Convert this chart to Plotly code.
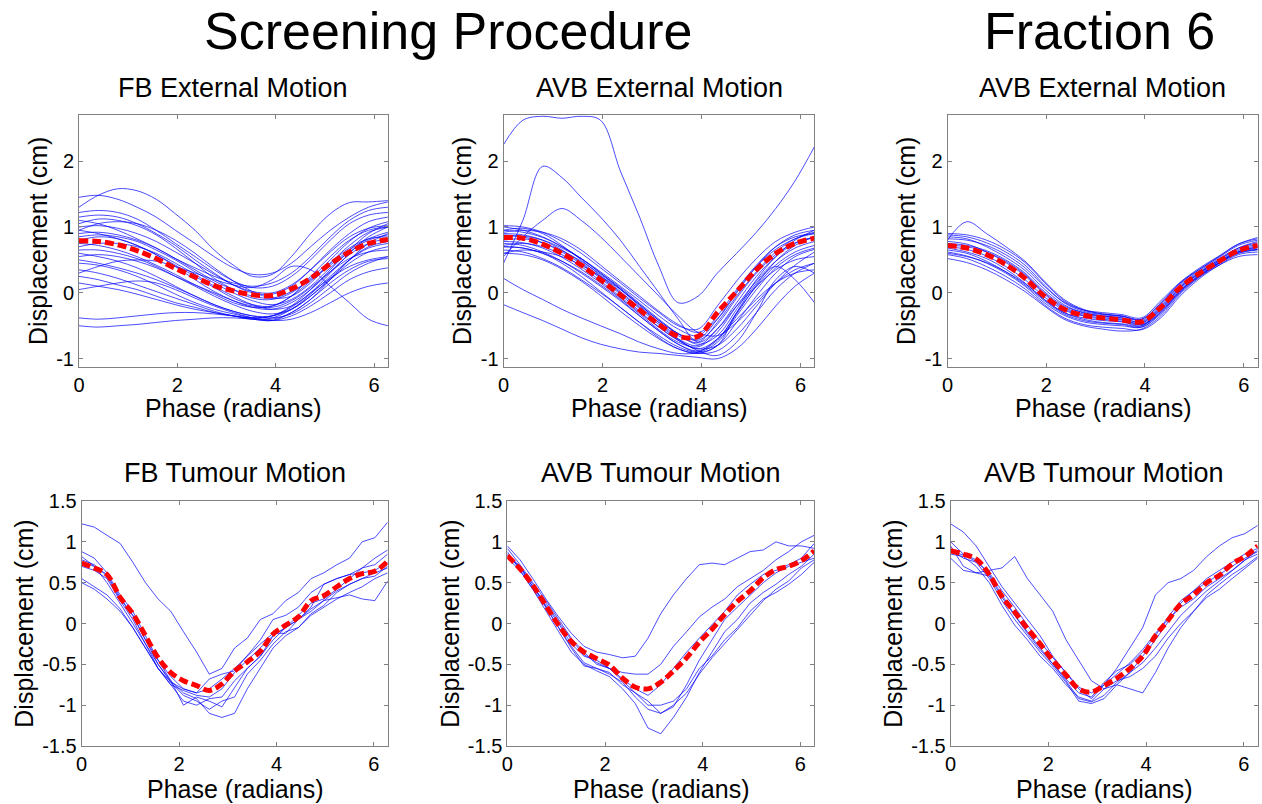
import plotly.graph_objects as go

# ---------------- DATA ----------------
PHASE_EXT = [0.0, 0.39, 0.79, 1.18, 1.57, 1.96, 2.36, 2.75, 3.14, 3.53, 3.93,
             4.32, 4.71, 5.11, 5.50, 5.89, 6.283]
PHASE_TUM = [0.0, 0.26, 0.52, 0.79, 1.05, 1.31, 1.57, 1.83, 2.09, 2.36, 2.62,
             2.88, 3.14, 3.40, 3.67, 3.93, 4.19, 4.45, 4.71, 4.97, 5.24, 5.50,
             5.76, 6.02, 6.283]

X_TICKS = [0, 2, 4, 6]
X_TICK_LABELS = ["0", "2", "4", "6"]
Y_TICKS_EXT = [-1, 0, 1, 2]
Y_TICK_LABELS_EXT = ["-1", "0", "1", "2"]
Y_TICKS_TUM = [-1.5, -1, -0.5, 0, 0.5, 1, 1.5]
Y_TICK_LABELS_TUM = ["-1.5", "-1", "-0.5", "0", "0.5", "1", "1.5"]

SUPER_TITLES = ["Screening Procedure", "Fraction 6"]
PANEL_TITLES = ["FB External Motion", "AVB External Motion", "AVB External Motion",
                "FB Tumour Motion", "AVB Tumour Motion", "AVB Tumour Motion"]
X_TITLE = "Phase (radians)"
Y_TITLE = "Displacement (cm)"

# FB external motion (screening)
FB_EXT_MEAN = [0.79, 0.78, 0.73, 0.64, 0.52, 0.37, 0.24, 0.11, 0.03, -0.03, -0.04,
               0.06, 0.22, 0.44, 0.62, 0.75, 0.81]
FB_EXT_CYCLES = [
    [1.45, 1.48, 1.42, 1.30, 1.15, 0.95, 0.75, 0.55, 0.38, 0.28, 0.30, 0.45, 0.70, 0.95, 1.15, 1.30, 1.38],
    [1.30, 1.48, 1.58, 1.55, 1.42, 1.20, 0.95, 0.65, 0.42, 0.25, 0.28, 0.55, 0.90, 1.20, 1.37, 1.38, 1.40],
    [1.22, 1.25, 1.22, 1.12, 0.95, 0.75, 0.55, 0.35, 0.18, 0.08, 0.10, 0.25, 0.50, 0.80, 1.05, 1.18, 1.22],
    [1.15, 1.18, 1.15, 1.05, 0.90, 0.72, 0.50, 0.30, 0.12, 0.00, -0.02, 0.10, 0.35, 0.65, 0.90, 1.08, 1.15],
    [1.05, 1.12, 1.10, 1.02, 0.88, 0.68, 0.45, 0.22, 0.05, -0.08, -0.10, 0.00, 0.22, 0.50, 0.78, 0.98, 1.08],
    [1.00, 1.02, 0.98, 0.90, 0.78, 0.62, 0.45, 0.28, 0.12, 0.02, 0.00, 0.12, 0.35, 0.62, 0.85, 0.98, 1.02],
    [0.95, 1.05, 1.08, 1.05, 0.95, 0.80, 0.60, 0.38, 0.18, 0.02, -0.08, -0.05, 0.15, 0.45, 0.72, 0.92, 1.00],
    [0.90, 0.92, 0.88, 0.80, 0.68, 0.52, 0.35, 0.18, 0.05, -0.05, -0.08, 0.02, 0.20, 0.42, 0.65, 0.82, 0.92],
    [0.85, 0.88, 0.85, 0.78, 0.65, 0.50, 0.32, 0.15, 0.00, -0.12, -0.18, -0.10, 0.10, 0.38, 0.62, 0.80, 0.88],
    [0.80, 0.85, 0.82, 0.72, 0.58, 0.40, 0.20, 0.02, -0.12, -0.22, -0.25, -0.15, 0.05, 0.32, 0.58, 0.75, 0.82],
    [0.75, 0.72, 0.65, 0.55, 0.42, 0.28, 0.12, -0.02, -0.15, -0.22, -0.20, -0.05, 0.18, 0.45, 0.68, 0.82, 0.85],
    [0.70, 0.75, 0.75, 0.70, 0.60, 0.45, 0.28, 0.10, -0.05, -0.18, -0.25, -0.20, 0.00, 0.30, 0.60, 0.85, 1.00],
    [0.65, 0.65, 0.60, 0.52, 0.40, 0.25, 0.10, -0.05, -0.18, -0.28, -0.32, -0.25, -0.05, 0.22, 0.50, 0.70, 0.78],
    [0.60, 0.55, 0.48, 0.38, 0.25, 0.10, -0.05, -0.18, -0.28, -0.35, -0.35, -0.25, -0.05, 0.20, 0.45, 0.62, 0.70],
    [0.55, 0.58, 0.55, 0.48, 0.38, 0.25, 0.12, 0.00, -0.12, -0.20, -0.22, -0.12, 0.08, 0.32, 0.52, 0.62, 0.65],
    [0.50, 0.45, 0.38, 0.30, 0.20, 0.08, -0.05, -0.18, -0.28, -0.35, -0.38, -0.32, -0.15, 0.08, 0.30, 0.45, 0.55],
    [0.45, 0.42, 0.35, 0.25, 0.12, -0.02, -0.15, -0.25, -0.32, -0.38, -0.40, -0.30, -0.10, 0.15, 0.35, 0.48, 0.52],
    [0.35, 0.30, 0.22, 0.12, 0.02, -0.08, -0.18, -0.28, -0.35, -0.40, -0.42, -0.35, -0.20, 0.00, 0.20, 0.32, 0.38],
    [0.25, 0.20, 0.12, 0.05, -0.05, -0.15, -0.22, -0.30, -0.35, -0.40, -0.38, -0.25, -0.02, 0.25, 0.50, 0.68, 0.75],
    [0.15, 0.10, 0.05, -0.02, -0.10, -0.18, -0.25, -0.30, -0.35, -0.38, -0.35, -0.22, 0.00, 0.22, 0.40, 0.50, 0.55],
    [-0.38, -0.40, -0.38, -0.35, -0.32, -0.30, -0.30, -0.32, -0.35, -0.38, -0.35, -0.20, 0.05, 0.35, 0.65, 0.90, 1.05],
    [-0.50, -0.52, -0.50, -0.48, -0.45, -0.42, -0.40, -0.38, -0.38, -0.40, -0.42, -0.30, -0.10, 0.20, 0.50, 0.75, 0.90],
    [0.30, 0.40, 0.48, 0.50, 0.48, 0.40, 0.30, 0.20, 0.12, 0.08, 0.20, 0.40, 0.35, 0.10, -0.15, -0.40, -0.50],
    [0.05, 0.10, 0.15, 0.18, 0.15, 0.05, -0.08, -0.20, -0.30, -0.38, -0.42, -0.40, -0.30, -0.15, 0.00, 0.10, 0.15],
    [1.10, 1.05, 0.95, 0.82, 0.68, 0.52, 0.38, 0.25, 0.15, 0.10, 0.15, 0.30, 0.55, 0.85, 1.10, 1.25, 1.30],
    [0.95, 0.90, 0.82, 0.72, 0.58, 0.42, 0.25, 0.08, -0.08, -0.18, -0.20, -0.05, 0.25, 0.55, 0.80, 0.95, 1.00],
]

# AVB external motion (screening)
AVB_EXT_MEAN = [0.84, 0.83, 0.74, 0.60, 0.42, 0.20, -0.03, -0.26, -0.48, -0.66, -0.66,
                -0.30, 0.02, 0.35, 0.60, 0.75, 0.83]
AVB_EXT_CYCLES = [
    [2.25, 2.62, 2.68, 2.65, 2.68, 2.62, 1.85, 1.15, 0.40, -0.15, -0.05, 0.30, 0.60, 0.92, 1.28, 1.70, 2.22],
    [0.45, 1.10, 1.92, 1.75, 1.45, 1.15, 0.80, 0.40, 0.00, -0.40, -0.75, -0.55, -0.20, 0.10, 0.35, 0.50, 0.55],
    [0.55, 0.85, 1.10, 1.28, 1.10, 0.85, 0.55, 0.25, -0.05, -0.35, -0.60, -0.65, -0.45, -0.15, 0.15, 0.35, 0.45],
    [0.22, 0.05, -0.10, -0.25, -0.38, -0.50, -0.62, -0.75, -0.85, -0.92, -0.90, -0.70, -0.40, -0.10, 0.15, 0.30, 0.35],
    [-0.18, -0.30, -0.42, -0.55, -0.68, -0.78, -0.85, -0.90, -0.92, -0.95, -0.98, -1.00, -0.85, -0.55, -0.20, 0.10, 0.30],
    [0.60, 0.65, 0.62, 0.55, 0.42, 0.25, 0.05, -0.20, -0.45, -0.70, -0.88, -0.95, -0.75, -0.30, 0.20, 0.40, 0.30],
    [0.70, 0.68, 0.60, 0.48, 0.32, 0.12, -0.10, -0.35, -0.58, -0.78, -0.90, -0.80, -0.30, 0.15, 0.40, 0.20, -0.15],
    [1.02, 1.00, 0.92, 0.78, 0.60, 0.38, 0.15, -0.08, -0.30, -0.50, -0.55, -0.20, 0.18, 0.52, 0.78, 0.92, 1.00],
    [0.95, 0.98, 0.90, 0.72, 0.50, 0.26, 0.02, -0.22, -0.45, -0.65, -0.75, -0.45, -0.05, 0.32, 0.62, 0.82, 0.92],
    [0.90, 0.88, 0.80, 0.65, 0.46, 0.24, 0.00, -0.24, -0.48, -0.70, -0.80, -0.55, -0.15, 0.25, 0.55, 0.75, 0.85],
    [0.85, 0.86, 0.80, 0.68, 0.52, 0.32, 0.10, -0.12, -0.35, -0.55, -0.65, -0.35, 0.05, 0.42, 0.70, 0.85, 0.90],
    [0.78, 0.76, 0.68, 0.54, 0.36, 0.15, -0.08, -0.32, -0.56, -0.75, -0.82, -0.60, -0.20, 0.18, 0.48, 0.68, 0.78],
    [0.75, 0.72, 0.62, 0.48, 0.30, 0.10, -0.12, -0.35, -0.58, -0.78, -0.88, -0.72, -0.30, 0.10, 0.42, 0.62, 0.72],
    [0.70, 0.68, 0.60, 0.45, 0.25, 0.02, -0.22, -0.45, -0.65, -0.82, -0.90, -0.75, -0.35, 0.05, 0.38, 0.58, 0.68],
    [0.65, 0.62, 0.52, 0.38, 0.20, 0.00, -0.22, -0.45, -0.68, -0.85, -0.92, -0.80, -0.45, -0.05, 0.30, 0.55, 0.66],
    [0.92, 0.95, 0.92, 0.82, 0.65, 0.42, 0.18, -0.05, -0.28, -0.48, -0.60, -0.40, 0.00, 0.40, 0.70, 0.88, 0.95],
    [0.88, 0.85, 0.76, 0.62, 0.44, 0.22, -0.02, -0.28, -0.52, -0.72, -0.85, -0.70, -0.32, 0.12, 0.48, 0.72, 0.85],
    [1.00, 0.95, 0.85, 0.70, 0.52, 0.30, 0.08, -0.16, -0.40, -0.62, -0.78, -0.65, -0.25, 0.20, 0.55, 0.80, 0.95],
    [0.80, 0.82, 0.76, 0.64, 0.48, 0.28, 0.06, -0.18, -0.42, -0.62, -0.72, -0.48, -0.08, 0.30, 0.58, 0.76, 0.84],
    [0.72, 0.75, 0.70, 0.58, 0.40, 0.18, -0.06, -0.30, -0.52, -0.72, -0.85, -0.80, -0.55, -0.20, 0.15, 0.42, 0.62],
    [0.60, 0.58, 0.50, 0.36, 0.18, -0.04, -0.28, -0.50, -0.70, -0.85, -0.92, -0.88, -0.65, -0.30, 0.05, 0.30, 0.45],
    [0.95, 0.92, 0.84, 0.70, 0.52, 0.30, 0.06, -0.18, -0.42, -0.62, -0.70, -0.40, 0.02, 0.40, 0.66, 0.82, 0.90],
]

# AVB external motion (fraction 6)
F6_EXT_MEAN = [0.72, 0.68, 0.58, 0.43, 0.22, -0.05, -0.25, -0.34, -0.38, -0.41, -0.44,
               -0.22, 0.08, 0.30, 0.48, 0.64, 0.72]
F6_EXT_CYCLES = [
    [0.88, 0.85, 0.76, 0.62, 0.42, 0.12, -0.15, -0.28, -0.33, -0.36, -0.40, -0.15, 0.15, 0.36, 0.54, 0.72, 0.80],
    [0.80, 1.08, 0.90, 0.70, 0.48, 0.18, -0.10, -0.25, -0.32, -0.35, -0.42, -0.18, 0.12, 0.34, 0.52, 0.68, 0.76],
    [0.75, 0.72, 0.64, 0.50, 0.30, 0.02, -0.20, -0.30, -0.35, -0.38, -0.44, -0.20, 0.10, 0.32, 0.50, 0.66, 0.74],
    [0.70, 0.66, 0.56, 0.40, 0.20, -0.06, -0.26, -0.35, -0.40, -0.43, -0.48, -0.26, 0.04, 0.28, 0.46, 0.62, 0.70],
    [0.65, 0.60, 0.48, 0.32, 0.12, -0.12, -0.32, -0.42, -0.46, -0.48, -0.52, -0.32, 0.00, 0.25, 0.44, 0.60, 0.66],
    [0.58, 0.52, 0.40, 0.25, 0.06, -0.18, -0.38, -0.48, -0.52, -0.54, -0.56, -0.38, -0.05, 0.22, 0.42, 0.58, 0.62],
    [0.52, 0.46, 0.35, 0.20, 0.02, -0.20, -0.40, -0.50, -0.55, -0.58, -0.55, -0.35, -0.02, 0.24, 0.42, 0.55, 0.58],
    [0.82, 0.80, 0.72, 0.58, 0.38, 0.10, -0.14, -0.26, -0.30, -0.33, -0.38, -0.12, 0.16, 0.38, 0.56, 0.74, 0.82],
    [0.78, 0.74, 0.62, 0.46, 0.26, -0.02, -0.24, -0.34, -0.38, -0.41, -0.46, -0.24, 0.06, 0.30, 0.48, 0.64, 0.72],
    [0.68, 0.62, 0.52, 0.36, 0.15, -0.10, -0.30, -0.38, -0.42, -0.44, -0.50, -0.28, 0.03, 0.27, 0.46, 0.62, 0.68],
    [0.62, 0.56, 0.45, 0.30, 0.10, -0.15, -0.34, -0.44, -0.48, -0.50, -0.52, -0.30, 0.02, 0.26, 0.45, 0.60, 0.65],
    [0.85, 0.82, 0.70, 0.54, 0.34, 0.06, -0.18, -0.30, -0.35, -0.38, -0.45, -0.22, 0.08, 0.31, 0.50, 0.68, 0.78],
    [0.72, 0.70, 0.62, 0.48, 0.28, 0.00, -0.22, -0.32, -0.36, -0.40, -0.48, -0.30, 0.02, 0.26, 0.45, 0.62, 0.70],
    [0.60, 0.55, 0.46, 0.32, 0.14, -0.10, -0.30, -0.40, -0.45, -0.47, -0.50, -0.25, 0.08, 0.30, 0.48, 0.62, 0.66],
    [0.90, 0.88, 0.80, 0.66, 0.46, 0.16, -0.12, -0.26, -0.32, -0.35, -0.40, -0.16, 0.14, 0.36, 0.55, 0.74, 0.84],
]

# FB tumour motion (screening)
FB_TUM_MEAN = [0.74, 0.68, 0.60, 0.32, 0.12, -0.15, -0.42, -0.60, -0.70, -0.76, -0.82,
               -0.74, -0.58, -0.47, -0.34, -0.13, -0.02, 0.08, 0.28, 0.34, 0.45, 0.55,
               0.61, 0.64, 0.76]
FB_TUM_CYCLES = [
    [1.22, 1.18, 1.08, 0.98, 0.75, 0.50, 0.30, 0.15, -0.10, -0.35, -0.62, -0.55, -0.30, -0.18, 0.05, 0.12, 0.28, 0.38, 0.55, 0.62, 0.72, 0.80, 1.00, 1.05, 1.24],
    [0.88, 0.80, 0.62, 0.35, 0.15, -0.15, -0.45, -0.70, -1.00, -0.90, -0.95, -1.02, -0.78, -0.55, -0.40, -0.15, -0.05, 0.05, 0.20, 0.48, 0.55, 0.60, 0.68, 0.80, 0.90],
    [0.78, 0.72, 0.58, 0.30, 0.10, -0.20, -0.50, -0.70, -0.85, -0.92, -1.10, -1.15, -1.10, -0.80, -0.55, -0.30, -0.15, -0.05, 0.10, 0.20, 0.30, 0.38, 0.45, 0.55, 0.62],
    [0.70, 0.65, 0.55, 0.28, 0.05, -0.25, -0.55, -0.75, -0.82, -0.88, -0.90, -0.80, -0.60, -0.45, -0.30, -0.15, -0.05, 0.10, 0.25, 0.30, 0.42, 0.55, 0.68, 0.72, 0.85],
    [0.55, 0.45, 0.35, 0.18, -0.05, -0.30, -0.55, -0.72, -0.80, -0.85, -0.80, -0.68, -0.55, -0.40, -0.25, -0.12, -0.12, 0.05, 0.18, 0.28, 0.40, 0.48, 0.55, 0.58, 0.70],
    [0.50, 0.42, 0.30, 0.15, -0.05, -0.30, -0.55, -0.75, -0.95, -1.00, -0.92, -0.90, -0.70, -0.55, -0.40, -0.20, -0.05, 0.05, 0.15, 0.28, 0.32, 0.35, 0.30, 0.28, 0.52],
    [0.75, 0.70, 0.60, 0.32, 0.10, -0.20, -0.45, -0.65, -0.80, -0.85, -0.68, -0.62, -0.58, -0.40, -0.20, 0.05, 0.10, 0.20, 0.38, 0.48, 0.55, 0.60, 0.62, 0.65, 0.75],
    [0.82, 0.70, 0.50, 0.25, 0.00, -0.25, -0.50, -0.72, -0.88, -0.95, -1.05, -0.95, -0.90, -0.62, -0.45, -0.25, -0.10, -0.05, 0.12, 0.22, 0.38, 0.48, 0.55, 0.62, 0.68],
]

# AVB tumour motion (screening)
AVB_TUM_MEAN = [0.83, 0.67, 0.47, 0.22, -0.02, -0.22, -0.35, -0.43, -0.51, -0.67, -0.78,
                -0.80, -0.72, -0.58, -0.42, -0.23, -0.07, 0.11, 0.27, 0.40, 0.56, 0.66,
                0.70, 0.77, 0.89]
AVB_TUM_CYCLES = [
    [0.95, 0.78, 0.55, 0.30, 0.08, -0.12, -0.28, -0.35, -0.38, -0.42, -0.40, -0.18, 0.12, 0.35, 0.55, 0.72, 0.74, 0.72, 0.80, 0.88, 0.90, 1.00, 0.95, 0.95, 0.92],
    [0.92, 0.72, 0.50, 0.28, 0.05, -0.18, -0.35, -0.50, -0.55, -0.60, -0.62, -0.62, -0.50, -0.28, -0.10, 0.08, 0.20, 0.30, 0.45, 0.55, 0.65, 0.78, 0.88, 1.00, 1.08],
    [0.85, 0.70, 0.48, 0.20, -0.05, -0.28, -0.48, -0.55, -0.60, -0.75, -0.85, -0.95, -1.10, -1.02, -0.75, -0.45, -0.20, 0.05, 0.20, 0.35, 0.50, 0.62, 0.70, 0.75, 0.80],
    [0.80, 0.65, 0.42, 0.15, -0.10, -0.35, -0.50, -0.58, -0.65, -0.80, -0.98, -1.28, -1.35, -1.15, -0.90, -0.60, -0.35, -0.10, 0.05, 0.25, 0.38, 0.48, 0.60, 0.70, 0.85],
    [0.82, 0.70, 0.45, 0.22, 0.00, -0.25, -0.40, -0.45, -0.55, -0.70, -0.85, -1.00, -1.00, -0.95, -0.80, -0.55, -0.40, -0.20, -0.05, 0.15, 0.30, 0.38, 0.48, 0.60, 0.75],
    [0.88, 0.65, 0.42, 0.20, -0.05, -0.30, -0.52, -0.55, -0.62, -0.72, -0.90, -1.05, -1.10, -1.00, -0.85, -0.62, -0.42, -0.25, -0.08, 0.10, 0.28, 0.42, 0.52, 0.68, 0.78],
    [0.84, 0.68, 0.45, 0.25, 0.02, -0.20, -0.38, -0.48, -0.55, -0.68, -0.80, -0.88, -0.75, -0.55, -0.35, -0.18, -0.02, 0.15, 0.35, 0.48, 0.60, 0.65, 0.72, 0.80, 0.98],
]

# AVB tumour motion (fraction 6)
F6_TUM_MEAN = [0.89, 0.85, 0.79, 0.60, 0.33, 0.14, -0.06, -0.25, -0.45, -0.63, -0.80,
               -0.84, -0.76, -0.67, -0.55, -0.40, -0.15, 0.04, 0.24, 0.35, 0.50, 0.59,
               0.73, 0.82, 0.95]
F6_TUM_CYCLES = [
    [1.22, 1.12, 0.95, 0.70, 0.45, 0.25, 0.05, -0.15, -0.40, -0.60, -0.80, -0.92, -0.75, -0.55, -0.30, -0.05, 0.35, 0.50, 0.55, 0.65, 0.82, 0.95, 1.05, 1.10, 1.20],
    [0.95, 0.70, 0.62, 0.65, 0.68, 0.82, 0.55, 0.35, 0.15, -0.20, -0.45, -0.70, -0.80, -0.75, -0.60, -0.40, -0.20, 0.02, 0.25, 0.40, 0.50, 0.60, 0.70, 0.80, 0.88],
    [1.00, 0.85, 0.78, 0.60, 0.35, 0.10, -0.10, -0.30, -0.50, -0.70, -0.92, -0.96, -0.88, -0.72, -0.60, -0.48, -0.30, -0.10, 0.10, 0.25, 0.40, 0.52, 0.65, 0.78, 0.90],
    [0.90, 0.80, 0.75, 0.55, 0.28, 0.05, -0.15, -0.35, -0.52, -0.72, -0.95, -0.98, -0.92, -0.75, -0.80, -0.85, -0.60, -0.30, -0.05, 0.15, 0.35, 0.48, 0.60, 0.70, 0.82],
    [0.85, 0.82, 0.70, 0.50, 0.22, -0.02, -0.20, -0.40, -0.55, -0.75, -0.90, -0.95, -0.80, -0.70, -0.65, -0.55, -0.40, -0.18, 0.00, 0.15, 0.32, 0.42, 0.55, 0.68, 0.80],
    [0.80, 0.65, 0.62, 0.58, 0.32, 0.10, -0.12, -0.32, -0.50, -0.68, -0.85, -0.90, -0.72, -0.58, -0.50, -0.35, -0.15, 0.08, 0.28, 0.40, 0.55, 0.65, 0.75, 0.85, 0.92],
    [0.88, 0.84, 0.76, 0.62, 0.40, 0.20, -0.02, -0.22, -0.42, -0.60, -0.78, -0.85, -0.75, -0.62, -0.48, -0.32, -0.12, 0.05, 0.20, 0.30, 0.45, 0.55, 0.65, 0.78, 0.85],
]

# ---------------- STYLE / LAYOUT ----------------
FONT = "Liberation Sans, Arial, Helvetica, sans-serif"
BLUE = "rgba(0,0,255,0.7)"
RED = "rgb(255,0,0)"
AXIS_GREY = "#808080"

X_DOMAINS = [[0.0626, 0.3074], [0.3990, 0.6454], [0.7508, 0.9966],
             [0.0647, 0.3072], [0.4020, 0.6452], [0.7533, 0.9966]]
Y_DOMAINS = [[0.5440, 0.8570]] * 3 + [[0.0721, 0.3769]] * 3
Y_RANGE_EXT = [-1.12, 2.70]
Y_RANGE_TUM = [-1.5, 1.5]

panels = [
    (PHASE_EXT, FB_EXT_CYCLES, FB_EXT_MEAN, "spline", "ext"),
    (PHASE_EXT, AVB_EXT_CYCLES, AVB_EXT_MEAN, "spline", "ext"),
    (PHASE_EXT, F6_EXT_CYCLES, F6_EXT_MEAN, "spline", "ext"),
    (PHASE_TUM, FB_TUM_CYCLES, FB_TUM_MEAN, "linear", "tum"),
    (PHASE_TUM, AVB_TUM_CYCLES, AVB_TUM_MEAN, "linear", "tum"),
    (PHASE_TUM, F6_TUM_CYCLES, F6_TUM_MEAN, "linear", "tum"),
]

fig = go.Figure()
layout_axes = {}
for i, (phase, cycles, mean, shape, kind) in enumerate(panels, start=1):
    xa = "x" if i == 1 else f"x{i}"
    ya = "y" if i == 1 else f"y{i}"
    for cyc in cycles:
        fig.add_trace(go.Scatter(x=phase, y=cyc, mode="lines",
                                 line=dict(color=BLUE, width=1, shape=shape),
                                 xaxis=xa, yaxis=ya, hoverinfo="skip",
                                 showlegend=False))
    fig.add_trace(go.Scatter(x=phase, y=mean, mode="lines",
                             line=dict(color=RED, width=5, dash="9px,4px",
                                       shape="spline"),
                             xaxis=xa, yaxis=ya, hoverinfo="skip",
                             showlegend=False))
    common = dict(showline=True, linecolor=AXIS_GREY, linewidth=1, mirror="ticks",
                  ticks="inside", ticklen=4, tickcolor=AXIS_GREY, tickwidth=1,
                  showgrid=False, zeroline=False,
                  tickfont=dict(family=FONT, size=20, color="black"))
    xname = "xaxis" if i == 1 else f"xaxis{i}"
    yname = "yaxis" if i == 1 else f"yaxis{i}"
    layout_axes[xname] = dict(common, domain=X_DOMAINS[i - 1], anchor=ya,
                              range=[0, 6.2832], tickvals=X_TICKS,
                              ticktext=X_TICK_LABELS)
    if kind == "ext":
        yr, yt, ytl = Y_RANGE_EXT, Y_TICKS_EXT, Y_TICK_LABELS_EXT
    else:
        yr, yt, ytl = Y_RANGE_TUM, Y_TICKS_TUM, Y_TICK_LABELS_TUM
    layout_axes[yname] = dict(common, domain=Y_DOMAINS[i - 1], anchor=xa,
                              range=yr, tickvals=yt, ticktext=ytl,
                              title=dict(text=Y_TITLE, standoff=1,
                                         font=dict(family=FONT, size=25, color="black")))

annotations = []
# super titles
annotations.append(dict(text=SUPER_TITLES[0], x=0.355, y=0.961, xref="paper", yref="paper",
                        xanchor="center", yanchor="middle", showarrow=False,
                        font=dict(family=FONT, size=52, color="black")))
annotations.append(dict(text=SUPER_TITLES[1], x=0.8716, y=0.961, xref="paper", yref="paper",
                        xanchor="center", yanchor="middle", showarrow=False,
                        font=dict(family=FONT, size=52, color="black")))
for i, t in enumerate(PANEL_TITLES):
    xd = X_DOMAINS[i]
    xc = (xd[0] + xd[1]) / 2
    yc = 0.8905 if i < 3 else 0.4117
    annotations.append(dict(text=t, x=xc, y=yc, xref="paper", yref="paper",
                            xanchor="center", yanchor="middle", showarrow=False,
                            font=dict(family=FONT, size=27, color="black")))
    # x-axis title placed like the reference (close under the tick labels)
    if i < 3:
        xt = dict(y=0.4920, yanchor="middle")
    else:
        xt = dict(y=0.0, yanchor="bottom")
    annotations.append(dict(text=X_TITLE, x=xc, xref="paper", yref="paper",
                            xanchor="center", showarrow=False, borderpad=0,
                            font=dict(family=FONT, size=25, color="black"), **xt))

fig.update_layout(width=1262, height=804,
                  margin=dict(l=0, r=0, t=0, b=0, autoexpand=False),
                  paper_bgcolor="white", plot_bgcolor="white",
                  showlegend=False, annotations=annotations,
                  font=dict(family=FONT, color="black"),
                  **layout_axes)

fig.write_html("out.html",
               config={"displayModeBar": False, "responsive": False},
               post_script="document.body.style.margin='0px';"
                           "document.body.style.padding='0px';"
                           "document.body.style.overflow='hidden';")
